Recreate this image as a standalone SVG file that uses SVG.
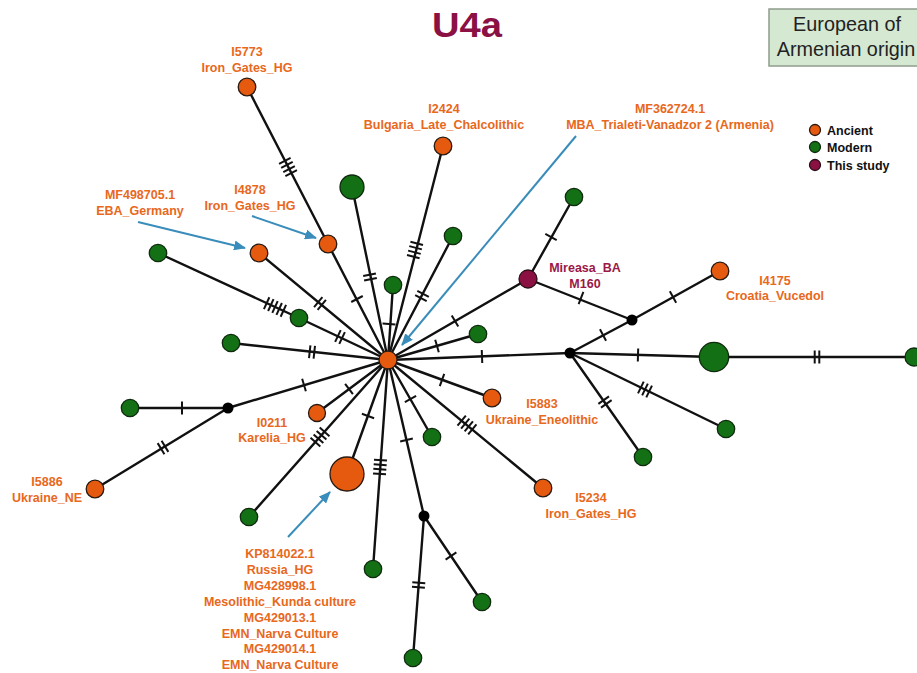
<svg xmlns="http://www.w3.org/2000/svg" xmlns:xlink="http://www.w3.org/1999/xlink" width="917" height="673" viewBox="0 0 917 673">
<style>
.e{stroke:#111;stroke-width:2.4;fill:none;stroke-linecap:round}
.h line{stroke:#111;stroke-width:2}
.ar{stroke:#3a8dba;stroke-width:2;fill:none}
.o{fill:#e65a10;stroke:#2a1a10;stroke-width:1.3}
.g{fill:#147014;stroke:#102a10;stroke-width:1.3}
.m{fill:#8c1143;stroke:#2a1018;stroke-width:1.3}
.b{fill:#000}
.lb{font-family:"Liberation Sans",Arial,sans-serif;font-weight:bold;font-size:12.5px;fill:#e8681c;text-anchor:middle}
.lm{font-family:"Liberation Sans",Arial,sans-serif;font-weight:bold;font-size:12.5px;fill:#9a1848;text-anchor:middle}
.lg{font-family:"Liberation Sans",Arial,sans-serif;font-weight:bold;font-size:12.5px;fill:#111}
.bx{font-family:"Liberation Sans",Arial,sans-serif;font-size:19.8px;fill:#222;text-anchor:middle}
</style>
<defs>
<g id="h1" class="h"><line x1="0" y1="-6.5" x2="0" y2="6.5"/></g>
<g id="h2" class="h"><line x1="-2.3" y1="-6.5" x2="-2.3" y2="6.5"/><line x1="2.3" y1="-6.5" x2="2.3" y2="6.5"/></g>
<g id="h3" class="h"><line x1="-4.6" y1="-6.5" x2="-4.6" y2="6.5"/><line x1="0" y1="-6.5" x2="0" y2="6.5"/><line x1="4.6" y1="-6.5" x2="4.6" y2="6.5"/></g>
<g id="h4" class="h"><line x1="-6.9" y1="-6.5" x2="-6.9" y2="6.5"/><line x1="-2.3" y1="-6.5" x2="-2.3" y2="6.5"/><line x1="2.3" y1="-6.5" x2="2.3" y2="6.5"/><line x1="6.9" y1="-6.5" x2="6.9" y2="6.5"/></g>
<g id="h5" class="h"><line x1="-9.2" y1="-6.5" x2="-9.2" y2="6.5"/><line x1="-4.6" y1="-6.5" x2="-4.6" y2="6.5"/><line x1="0" y1="-6.5" x2="0" y2="6.5"/><line x1="4.6" y1="-6.5" x2="4.6" y2="6.5"/><line x1="9.2" y1="-6.5" x2="9.2" y2="6.5"/></g>
<marker id="ah" viewBox="0 0 12 10" refX="11" refY="5" markerWidth="12" markerHeight="10" markerUnits="userSpaceOnUse" orient="auto"><path d="M0,0 L12,5 L0,10 z" fill="#3a8dba"/></marker>
</defs>

<text x="467" y="37" font-family="'Liberation Sans',Arial,sans-serif" font-weight="bold" font-size="35" fill="#8b1043" text-anchor="middle" textLength="70" lengthAdjust="spacingAndGlyphs">U4a</text>

<g id="origin-box">
<rect x="769" y="9" width="160" height="57" fill="#d5e8d2" stroke="#8f9c8c" stroke-width="1.5"/>
<text class="bx" x="847" y="31">European of</text>
<text class="bx" x="846" y="56">Armenian origin</text>
</g>

<g id="legend">
<circle class="o" cx="815" cy="130" r="5.5"/><text class="lg" x="827" y="135">Ancient</text>
<circle class="g" cx="815" cy="147" r="5.5"/><text class="lg" x="827" y="152">Modern</text>
<circle class="m" cx="815" cy="165" r="5.5"/><text class="lg" x="827" y="170">This study</text>
</g>

<g id="connectors">
<line class="e" x1="247" y1="87" x2="328" y2="244"/>
<line class="e" x1="328" y1="244" x2="388" y2="360"/>
<line class="e" x1="352" y1="187" x2="388" y2="360"/>
<line class="e" x1="393" y1="285" x2="388" y2="360"/>
<line class="e" x1="443" y1="146" x2="388" y2="360"/>
<line class="e" x1="453" y1="236" x2="388" y2="360"/>
<line class="e" x1="528" y1="279" x2="388" y2="360"/>
<line class="e" x1="574" y1="197" x2="528" y2="279"/>
<line class="e" x1="528" y1="279" x2="632" y2="320"/>
<line class="e" x1="632" y1="320" x2="720" y2="271"/>
<line class="e" x1="632" y1="320" x2="570" y2="353"/>
<line class="e" x1="478" y1="334" x2="388" y2="360"/>
<line class="e" x1="570" y1="353" x2="388" y2="360"/>
<line class="e" x1="570" y1="353" x2="714" y2="357"/>
<line class="e" x1="714" y1="357" x2="914" y2="357"/>
<line class="e" x1="570" y1="353" x2="643" y2="457"/>
<line class="e" x1="570" y1="353" x2="726" y2="429"/>
<line class="e" x1="492" y1="398" x2="388" y2="360"/>
<line class="e" x1="543" y1="488" x2="388" y2="360"/>
<line class="e" x1="432" y1="437" x2="388" y2="360"/>
<line class="e" x1="424" y1="516" x2="388" y2="360"/>
<line class="e" x1="424" y1="516" x2="413" y2="658"/>
<line class="e" x1="424" y1="516" x2="482" y2="602"/>
<line class="e" x1="373" y1="569" x2="388" y2="360"/>
<line class="e" x1="347" y1="474" x2="388" y2="360"/>
<line class="e" x1="249" y1="517" x2="388" y2="360"/>
<line class="e" x1="317" y1="413" x2="388" y2="360"/>
<line class="e" x1="228" y1="408" x2="388" y2="360"/>
<line class="e" x1="130" y1="408" x2="228" y2="408"/>
<line class="e" x1="228" y1="408" x2="95" y2="489"/>
<line class="e" x1="231" y1="343" x2="388" y2="360"/>
<line class="e" x1="158" y1="253" x2="299" y2="318"/>
<line class="e" x1="299" y1="318" x2="388" y2="360"/>
<line class="e" x1="259" y1="253" x2="388" y2="360"/>

<use href="#h4" transform="translate(288,167) rotate(62.7)"/>
<use href="#h1" transform="translate(357,299) rotate(62.6)"/>
<use href="#h2" transform="translate(370,277) rotate(78.2)"/>
<use href="#h1" transform="translate(389,324) rotate(93.8)"/>
<use href="#h4" transform="translate(415,250) rotate(104.4)"/>
<use href="#h2" transform="translate(422,296) rotate(117.7)"/>
<use href="#h1" transform="translate(455,321) rotate(149.9)"/>
<use href="#h1" transform="translate(551,237) rotate(119.3)"/>
<use href="#h1" transform="translate(581,298) rotate(21.5)"/>
<use href="#h1" transform="translate(673,297) rotate(-29.1)"/>
<use href="#h1" transform="translate(603,335) rotate(152)"/>
<use href="#h1" transform="translate(437,346) rotate(163.9)"/>
<use href="#h1" transform="translate(482,356.5) rotate(177.8)"/>
<use href="#h1" transform="translate(638,355) rotate(1.6)"/>
<use href="#h2" transform="translate(817,357)"/>
<use href="#h2" transform="translate(605,402) rotate(54.9)"/>
<use href="#h3" transform="translate(645,389.5) rotate(26)"/>
<use href="#h1" transform="translate(442,380) rotate(20.1)"/>
<use href="#h4" transform="translate(467,425) rotate(39.6)"/>
<use href="#h1" transform="translate(410.5,399) rotate(60.3)"/>
<use href="#h1" transform="translate(406.5,440) rotate(77)"/>
<use href="#h2" transform="translate(418.6,585) rotate(94.4)"/>
<use href="#h1" transform="translate(451,556) rotate(56)"/>
<use href="#h4" transform="translate(380,467) rotate(94.1)"/>
<use href="#h1" transform="translate(368,416) rotate(109.8)"/>
<use href="#h4" transform="translate(320,437) rotate(131.5)"/>
<use href="#h1" transform="translate(349,389) rotate(143.3)"/>
<use href="#h1" transform="translate(304,385) rotate(163.3)"/>
<use href="#h1" transform="translate(182,408)"/>
<use href="#h2" transform="translate(163,447.5) rotate(148.7)"/>
<use href="#h2" transform="translate(312,352) rotate(6.2)"/>
<use href="#h5" transform="translate(275,307) rotate(24.7)"/>
<use href="#h2" transform="translate(340,337) rotate(25.3)"/>
<use href="#h2" transform="translate(320,303.5) rotate(39.7)"/>

<line class="ar" x1="138" y1="222" x2="245" y2="248" marker-end="url(#ah)"/>
<line class="ar" x1="252" y1="216" x2="316" y2="238" marker-end="url(#ah)"/>
<line class="ar" x1="576" y1="136" x2="402" y2="345" marker-end="url(#ah)"/>
<line class="ar" x1="288" y1="537" x2="330" y2="492" marker-end="url(#ah)"/>
</g>

<g id="n-center"><circle class="o" cx="388" cy="360" r="9"/>
<text class="lb" x="670" y="113">MF362724.1</text>
<text class="lb" x="670" y="129">MBA_Trialeti-Vanadzor 2 (Armenia)</text></g>
<g id="n-I5773"><circle class="o" cx="247" cy="87" r="8.8"/>
<text class="lb" x="247" y="55.5">I5773</text><text class="lb" x="247" y="71.5">Iron_Gates_HG</text></g>
<g id="n-I4878"><circle class="o" cx="328" cy="244" r="8.8"/>
<text class="lb" x="250" y="194">I4878</text><text class="lb" x="250" y="210">Iron_Gates_HG</text></g>
<g id="n-MF498705"><circle class="o" cx="259" cy="253" r="8.8"/>
<text class="lb" x="140" y="199">MF498705.1</text><text class="lb" x="140" y="215">EBA_Germany</text></g>
<g id="n-I2424"><circle class="o" cx="443" cy="146" r="8.8"/>
<text class="lb" x="444" y="113">I2424</text><text class="lb" x="444" y="129">Bulgaria_Late_Chalcolithic</text></g>
<g id="n-mireasa"><circle class="m" cx="528" cy="279" r="9"/>
<text class="lm" x="585" y="272">Mireasa_BA</text><text class="lm" x="585" y="288">M160</text></g>
<g id="n-I4175"><circle class="o" cx="720" cy="271" r="8.8"/>
<text class="lb" x="775" y="285">I4175</text><text class="lb" x="775" y="300">Croatia_Vucedol</text></g>
<g id="n-I5883"><circle class="o" cx="492" cy="398" r="8.8"/>
<text class="lb" x="542" y="408">I5883</text><text class="lb" x="542" y="424">Ukraine_Eneolithic</text></g>
<g id="n-I5234"><circle class="o" cx="543" cy="488" r="8.8"/>
<text class="lb" x="591" y="502">I5234</text><text class="lb" x="591" y="518">Iron_Gates_HG</text></g>
<g id="n-I0211"><circle class="o" cx="317" cy="413" r="8.5"/>
<text class="lb" x="272" y="427">I0211</text><text class="lb" x="272" y="442">Karelia_HG</text></g>
<g id="n-I5886"><circle class="o" cx="95" cy="489" r="8.8"/>
<text class="lb" x="47" y="486">I5886</text><text class="lb" x="47" y="502">Ukraine_NE</text></g>
<g id="n-russia"><circle class="o" cx="347" cy="474" r="17"/>
<text class="lb" x="280" y="558">KP814022.1</text>
<text class="lb" x="280" y="574">Russia_HG</text>
<text class="lb" x="280" y="590">MG428998.1</text>
<text class="lb" x="280" y="606">Mesolithic_Kunda culture</text>
<text class="lb" x="280" y="622">MG429013.1</text>
<text class="lb" x="280" y="638">EMN_Narva Culture</text>
<text class="lb" x="280" y="653">MG429014.1</text>
<text class="lb" x="280" y="669">EMN_Narva Culture</text></g>

<g id="n-g1"><circle class="g" cx="352" cy="187" r="12"/></g>
<g id="n-g2"><circle class="g" cx="393" cy="285" r="8.7"/></g>
<g id="n-g3"><circle class="g" cx="453" cy="236" r="8.7"/></g>
<g id="n-g4"><circle class="g" cx="574" cy="197" r="8.7"/></g>
<g id="n-g5"><circle class="g" cx="478" cy="334" r="8.7"/></g>
<g id="n-g6"><circle class="g" cx="714" cy="357" r="14.7"/></g>
<g id="n-g7"><circle class="g" cx="914" cy="357" r="9"/></g>
<g id="n-g8"><circle class="g" cx="643" cy="457" r="8.7"/></g>
<g id="n-g9"><circle class="g" cx="726" cy="429" r="8.7"/></g>
<g id="n-g10"><circle class="g" cx="432" cy="437" r="8.7"/></g>
<g id="n-g11"><circle class="g" cx="482" cy="602" r="8.7"/></g>
<g id="n-g12"><circle class="g" cx="413" cy="658" r="8.7"/></g>
<g id="n-g13"><circle class="g" cx="373" cy="569" r="8.7"/></g>
<g id="n-g14"><circle class="g" cx="249" cy="517" r="8.7"/></g>
<g id="n-g15"><circle class="g" cx="130" cy="408" r="8.7"/></g>
<g id="n-g16"><circle class="g" cx="231" cy="343" r="8.7"/></g>
<g id="n-g17"><circle class="g" cx="158" cy="253" r="8.7"/></g>
<g id="n-g18"><circle class="g" cx="299" cy="318" r="8.7"/></g>
<g id="n-b1"><circle class="b" cx="632" cy="320" r="5.5"/></g>
<g id="n-b2"><circle class="b" cx="570" cy="353" r="5.5"/></g>
<g id="n-b3"><circle class="b" cx="424" cy="516" r="5.5"/></g>
<g id="n-b4"><circle class="b" cx="228" cy="408" r="5.5"/></g>
</svg>
